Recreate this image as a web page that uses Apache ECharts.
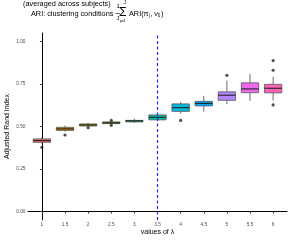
<!DOCTYPE html>
<html>
<head>
<meta charset="utf-8">
<script src="https://cdn.jsdelivr.net/npm/echarts@6/dist/echarts.min.js"></script>
<style>html,body{margin:0;padding:0;background:#fff}#c{width:291px;height:242px}</style>
</head>
<body>
<div id="c"></div>
<script>
// ---- data ----
const lambdaLabels = ['1','1.5','2','2.5','3','3.5','4','4.5','5','5.5','6'];
const lowerWhisker = [0.400,0.470,0.500,0.512,0.521,0.533,0.576,0.587,0.631,0.651,0.654];
const q1Values     = [0.407,0.477,0.503,0.517,0.527,0.539,0.589,0.621,0.654,0.699,0.698];
const medianValues = [0.417,0.486,0.509,0.521,0.533,0.554,0.611,0.636,0.684,0.721,0.725];
const q3Values     = [0.427,0.495,0.515,0.527,0.536,0.568,0.633,0.648,0.704,0.757,0.748];
const upperWhisker = [0.438,0.505,0.521,0.530,0.545,0.575,0.645,0.680,0.770,0.810,0.792];
const outlierLambda = ['1','1.5','2','2.5','2.5','4','5','6','6','6'];
const outlierValues = [0.377,0.450,0.493,0.536,0.507,0.536,0.801,0.888,0.831,0.627];
const yTicks = [0,0.25,0.5,0.75,1];
const thresholdLambda = '3.5';
const boxColors = ['#F8766D','#DB8E00','#AEA200','#64B200','#00BD5C','#00C1A7','#00BADE','#00A6FF','#B385FF','#EF67EB','#FF63B6'];

const boxData = lambdaLabels.map((l,i)=>[i, lowerWhisker[i], q1Values[i], medianValues[i], q3Values[i], upperWhisker[i]]);
const outData = outlierLambda.map((l,k)=>[lambdaLabels.indexOf(l), outlierValues[k]]);
const xIdx = lambdaLabels.map((l,i)=>i);

const chart = echarts.init(document.getElementById('c'), null, {renderer:'canvas'});
const tickColor = '#4D4D4D';
const FF = '"Liberation Sans", Arial, sans-serif';
chart.setOption({
  animation:false,
  backgroundColor:'#fff',
  grid:{left:28,right:4,top:33,bottom:22,containLabel:false,outerBoundsMode:'none'},
  xAxis:{
    type:'value', min:-0.6, max:lambdaLabels.length-0.4,
    axisLine:{show:true,lineStyle:{color:'#000',width:1}},
    axisTick:{show:true,customValues:xIdx,length:2,lineStyle:{color:'#333'}},
    axisLabel:{customValues:xIdx,formatter:v=>lambdaLabels[Math.round(v)],fontSize:4.8,color:tickColor,margin:2.5,fontFamily:FF},
    splitLine:{show:false},
    name:'values of λ', nameLocation:'middle', nameGap:8.5, nameMoveOverlap:false,
    nameTextStyle:{fontSize:7,color:'#000',fontFamily:FF}
  },
  yAxis:{
    type:'value', min:-0.05, max:1.05,
    axisLine:{show:true,lineStyle:{color:'#000',width:1}},
    axisTick:{show:true,customValues:yTicks,length:2,lineStyle:{color:'#333'}},
    axisLabel:{customValues:yTicks,formatter:v=>v.toFixed(2),fontSize:4.8,color:tickColor,margin:2.5,fontFamily:FF},
    splitLine:{show:false},
    name:'Adjusted Rand Index', nameLocation:'middle', nameGap:17, nameRotate:90, nameMoveOverlap:false,
    nameTextStyle:{fontSize:7,color:'#000',fontFamily:FF}
  },
  graphic:[
    {type:'text',left:23,top:0,style:{text:'(averaged across subjects)',font:'7.3px '+FF,fill:'#000'}},
    {type:'text',left:31,top:10.5,style:{text:'ARI: clustering conditions',font:'7.3px '+FF,fill:'#000'}},
    {type:'text',left:116.5,top:3,style:{text:'1',font:'6px '+FF,fill:'#000'}},
    {type:'line',shape:{x1:115.5,y1:13.5,x2:120,y2:13.5},style:{stroke:'#000',lineWidth:0.6}},
    {type:'text',left:116.5,top:15,style:{text:'J',font:'6px '+FF,fill:'#000'}},
    {type:'text',left:123.5,top:0.5,style:{text:'J',font:'5px '+FF,fill:'#000'}},
    {type:'text',left:119.5,top:6.5,style:{text:'∑',font:'10px "DejaVu Sans"',fill:'#000'}},
    {type:'text',left:120,top:18.5,style:{text:'j=1',font:'4.3px '+FF,fill:'#000'}},
    {type:'text',left:129,top:10.5,style:{
      text:'{a|ARI(π}{s|j}{a|, ν}{s|0}{a|)}',
      rich:{a:{font:'7.3px '+FF,fill:'#000'},s:{font:'4.6px '+FF,fill:'#000',padding:[4,0.5,0,0]}}
    }}
  ],
  series:[
    {
      type:'custom',
      data:boxData,
      encode:{x:0,y:[1,2,3,4,5]},
      renderItem:function(params, api){
        const x = api.value(0);
        const i = params.dataIndex;
        const pLo = api.coord([x, api.value(1)]);
        const pQ1 = api.coord([x, api.value(2)]);
        const pMd = api.coord([x, api.value(3)]);
        const pQ3 = api.coord([x, api.value(4)]);
        const pHi = api.coord([x, api.value(5)]);
        const half = api.size([0.75,0])[0]/2;
        const cx = pMd[0];
        const edge = {stroke:'#444',lineWidth:0.8};
        return {type:'group',children:[
          {type:'line',shape:{x1:cx,y1:pHi[1],x2:cx,y2:pQ3[1]},style:edge},
          {type:'line',shape:{x1:cx,y1:pQ1[1],x2:cx,y2:pLo[1]},style:edge},
          {type:'rect',shape:{x:cx-half,y:pQ3[1],width:half*2,height:pQ1[1]-pQ3[1]},style:{fill:boxColors[i],stroke:'#555',lineWidth:0.8}},
          {type:'line',shape:{x1:cx-half,y1:pMd[1],x2:cx+half,y2:pMd[1]},style:{stroke:'#222',lineWidth:1.1}}
        ]};
      },
      z:2
    },
    {
      type:'scatter',
      data:outData,
      symbolSize:3.2,
      itemStyle:{color:'#222'},
      z:3,
      markLine:{
        silent:true, symbol:'none', animation:false,
        label:{show:false},
        lineStyle:{color:'#2424ff',type:[3,2.5],width:1.2,opacity:1},
        emphasis:{disabled:true},
        data:[{xAxis:lambdaLabels.indexOf(thresholdLambda)}]
      }
    }
  ]
});
</script>
</body>
</html>
